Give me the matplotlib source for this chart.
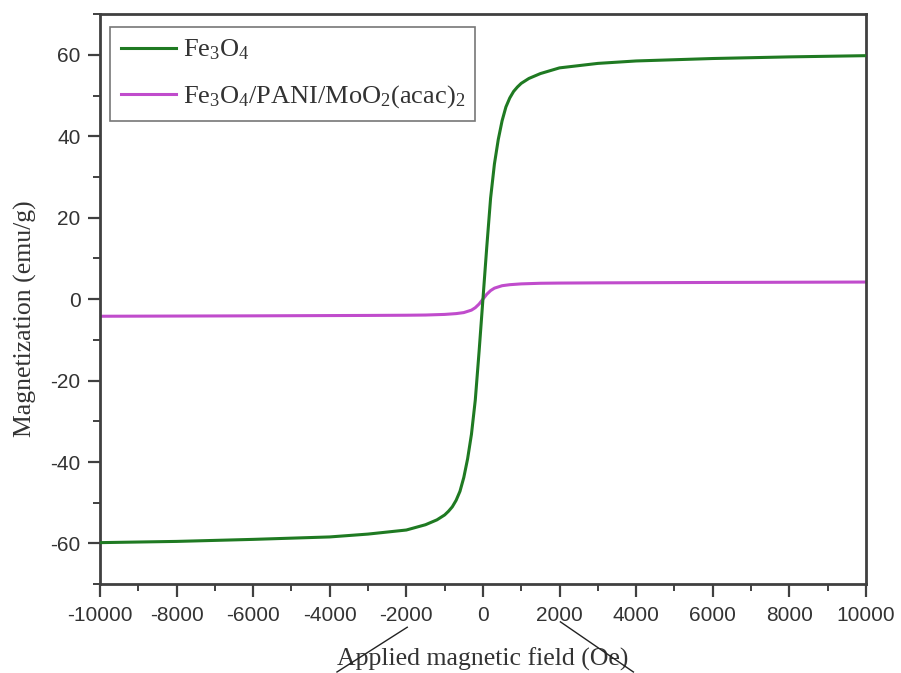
import matplotlib
matplotlib.use("Agg")
import matplotlib.pyplot as plt
from matplotlib.ticker import MultipleLocator
from matplotlib.lines import Line2D

plt.rcParams['mathtext.fontset'] = 'custom'
plt.rcParams['mathtext.rm'] = 'Liberation Serif'
plt.rcParams['mathtext.it'] = 'Liberation Serif:italic'
plt.rcParams['axes.unicode_minus'] = False

# Fe3O4 magnetization curve (Oe, emu/g)
fe_field = [-10000, -8000, -6000, -4000, -3000, -2000, -1500, -1200, -1000, -900,
            -800, -700, -600, -500, -400, -300, -200, -100, 0, 100, 200, 300, 400,
            500, 600, 700, 800, 900, 1000, 1200, 1500, 2000, 3000, 4000, 6000,
            8000, 10000]
fe_mag = [-59.8, -59.5, -59.0, -58.4, -57.7, -56.7, -55.4, -54.2, -53.0, -52.1,
          -51.0, -49.4, -47.2, -43.8, -39.2, -33.2, -24.8, -12.8, 0.0, 12.8, 24.8,
          33.2, 39.2, 43.8, 47.2, 49.4, 51.0, 52.1, 53.0, 54.2, 55.4, 56.8, 57.9,
          58.5, 59.1, 59.5, 59.8]

# Fe3O4/PANI/MoO2(acac)2 curve
comp_field = [-10000, -6000, -3000, -2000, -1500, -1000, -700, -500, -300, -200,
              -100, 0, 100, 200, 300, 500, 700, 1000, 1500, 2000, 3000, 6000, 10000]
comp_mag = [-4.2, -4.1, -4.0, -3.95, -3.9, -3.75, -3.55, -3.3, -2.7, -2.1,
            -1.2, 0.0, 1.2, 2.1, 2.7, 3.3, 3.55, 3.75, 3.9, 3.95, 4.0, 4.1, 4.2]

labels = [r'Fe$_3$O$_4$', r'Fe$_3$O$_4$/PANI/MoO$_2$(acac)$_2$']

fig = plt.figure(figsize=(9.01, 6.73), dpi=100)
ax = fig.add_axes([0.111, 0.132, 0.850, 0.847])

ax.plot(comp_field, comp_mag, color='#c04ccc', lw=2.2, label=labels[1], zorder=2)
ax.plot(fe_field, fe_mag, color='#1f7a22', lw=2.2, label=labels[0], zorder=3)

ax.set_xlim(-10000, 10000)
ax.set_ylim(-70, 70)
ax.xaxis.set_major_locator(MultipleLocator(2000))
ax.xaxis.set_minor_locator(MultipleLocator(1000))
ax.yaxis.set_major_locator(MultipleLocator(20))
ax.yaxis.set_minor_locator(MultipleLocator(10))

for s in ax.spines.values():
    s.set_linewidth(2)
    s.set_color('#404040')
ax.tick_params(which='major', direction='out', length=9, width=1.6, color='#404040',
               labelsize=15, labelcolor='#333333', top=False, right=False)
ax.tick_params(axis='x', which='major', pad=7)
ax.tick_params(axis='y', which='major', pad=5)
ax.tick_params(which='minor', direction='out', length=5, width=1.4, color='#404040',
               top=False, right=False)
for t in ax.get_xticklabels() + ax.get_yticklabels():
    t.set_fontfamily('Liberation Sans')

ax.set_xlabel('Applied magnetic field (Oe)', family='Liberation Serif', fontsize=18.5,
              color='#333333', labelpad=16)
ax.set_ylabel('Magnetization (emu/g)', family='Liberation Serif', fontsize=18.5,
              color='#333333')
ax.yaxis.set_label_coords(-0.082, 0.465)

h, l = ax.get_legend_handles_labels()
leg = ax.legend(h[::-1], l[::-1], loc='upper left', bbox_to_anchor=(0.013, 0.977),
                borderaxespad=0,
                prop={'family': 'Liberation Serif', 'size': 19}, frameon=True,
                fancybox=False, edgecolor='#555555', handlelength=2.1,
                handletextpad=0.25, borderpad=0.4, labelspacing=0.8)
leg.get_frame().set_linewidth(1.2)
for t in leg.get_texts():
    t.set_color('#333333')

# stray strokes around the axis title in the original image
fig.add_artist(Line2D([0.374, 0.452], [0.0015, 0.068], color='#222222', lw=1))
fig.add_artist(Line2D([0.622, 0.703], [0.076, 0.0015], color='#222222', lw=1))

fig.savefig('out.png', dpi=100)
